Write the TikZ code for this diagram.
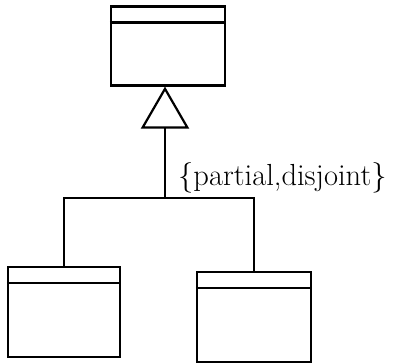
\documentclass[tikz,border=0pt]{standalone}
\usepackage{fontspec}
\usetikzlibrary{arrows.meta}
\begin{document}
\begin{tikzpicture}[x=1pt,y=-1pt,
  classbox/.style={draw,line width=2.2pt,minimum width=114pt,minimum height=86pt,inner sep=0pt},
  link/.style={line width=2.2pt}]
  \useasboundingbox (0,0) rectangle (394,364);
  % classes
  \node[classbox,minimum height=79pt] (super) at (168,46) {};
  \node[classbox,minimum width=112pt,minimum height=90pt] (subA) at (64,312) {};
  \node[classbox,minimum height=90pt] (subB) at (254,317) {};
  % header lines
  \foreach \n in {super,subA,subB}
    \draw[link] ([yshift=-17pt]\n.north west) -- ([yshift=-17pt]\n.north east);
  % generalization
  \coordinate (join) at (165,198);
  \draw[link] (subA.north) |- (join) -| (subB.north);
  \draw[link,-{Triangle[open,length=42pt,width=48pt,line width=2.2pt]}] (join) -- (join |- super.south);
  \node[anchor=west,inner sep=0pt,font=\fontsize{30.5}{34}\selectfont] (gset) at (178,178) {\{partial,disjoint\}};
\end{tikzpicture}
\end{document}
